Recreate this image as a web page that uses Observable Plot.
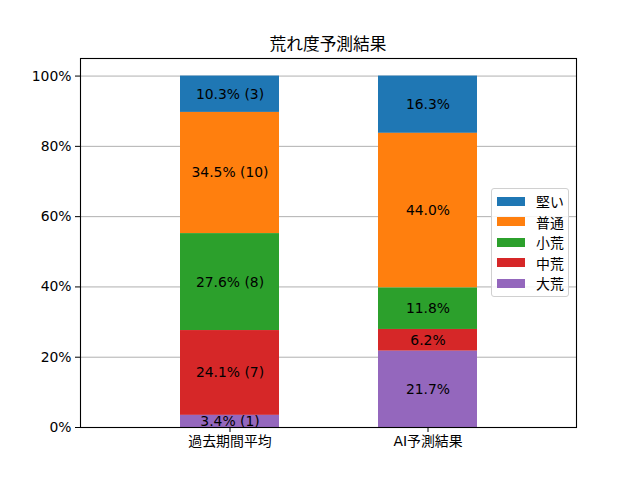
<!DOCTYPE html>
<html>
<head>
<meta charset="utf-8">
<script src="https://cdn.jsdelivr.net/npm/d3@7"></script>
<script src="https://cdn.jsdelivr.net/npm/@observablehq/plot@0.6"></script>
<style>
  html, body { margin: 0; padding: 0; background: #fff; }
  #wrap { position: relative; width: 640px; height: 480px; font-family: "DejaVu Sans", "Noto Sans CJK JP", sans-serif; color: #000; }
  #title { position: absolute; left: 80px; width: 496px; top: 33px; line-height: 22px; text-align: center; font-size: 16.7px; }
  #legend { position: absolute; left: 491px; top: 188px; width: 76px; height: 107px; border: 1px solid #d0d0d0; border-radius: 3px; background: rgba(255,255,255,0.85); box-sizing: content-box; }
  .row { position: absolute; left: 0; height: 20px; display: flex; align-items: center; font-size: 13.9px; }
  .sw { width: 28px; height: 9px; margin-left: 5px; margin-right: 11px; }
</style>
</head>
<body>
<div id="wrap">
  <div id="chart"></div>
  <div id="title">荒れ度予測結果</div>
  <div id="legend"></div>
</div>
<script>
const categories = ["過去期間平均", "AI予測結果"];
const classes = ["堅い", "普通", "小荒", "中荒", "大荒"];           // legend order (top to bottom)
const colors = ["#1f77b4", "#ff7f0e", "#2ca02c", "#d62728", "#9467bd"];
const pastCounts = [3, 10, 8, 7, 1];                               // 過去期間平均 counts
const aiPct = [16.3, 44.0, 11.8, 6.2, 21.7];                        // AI予測結果 percentages
const yTicks = [0, 20, 40, 60, 80, 100];

const pastTotal = d3.sum(pastCounts);
const stackOrder = classes.slice().reverse(); // bottom to top

const data = [];
classes.forEach((c, i) => {
  const p = pastCounts[i] / pastTotal * 100;
  data.push({cat: categories[0], cls: c, v: p, label: `${p.toFixed(1)}% (${pastCounts[i]})`});
});
classes.forEach((c, i) => {
  data.push({cat: categories[1], cls: c, v: aiPct[i], label: `${aiPct[i].toFixed(1)}%`});
});

const chart = Plot.plot({
  width: 640,
  height: 480,
  marginLeft: 80,
  marginRight: 64,
  marginTop: 58,
  marginBottom: 53,
  style: {fontFamily: '"DejaVu Sans", "Noto Sans CJK JP", sans-serif', fontSize: "13.9px", color: "#000", background: "#fff"},
  x: {domain: categories, padding: 0.5, label: null, tickSize: 5, tickPadding: 4},
  y: {domain: [0, 105], ticks: yTicks, tickFormat: d => d + "%", label: null, tickSize: 5, tickPadding: 4},
  color: {domain: classes, range: colors},
  marks: [
    Plot.ruleY(yTicks, {stroke: "#b0b0b0", strokeWidth: 1}),
    Plot.barY(data, {x: "cat", y: "v", fill: "cls", order: stackOrder}),
    Plot.text(data, Plot.stackY({x: "cat", y: "v", z: "cls", order: stackOrder, text: "label", fill: "#000", fontSize: 13.9})),
    Plot.frame({stroke: "#000", strokeWidth: 1.1})
  ]
});
document.getElementById("chart").appendChild(chart);

const legend = document.getElementById("legend");
classes.forEach((c, i) => {
  const row = document.createElement("div");
  row.className = "row";
  row.style.top = (2 + i * 20.5) + "px";
  const sw = document.createElement("div");
  sw.className = "sw";
  sw.style.background = colors[i];
  const t = document.createElement("span");
  t.textContent = c;
  row.appendChild(sw);
  row.appendChild(t);
  legend.appendChild(row);
});
</script>
</body>
</html>
